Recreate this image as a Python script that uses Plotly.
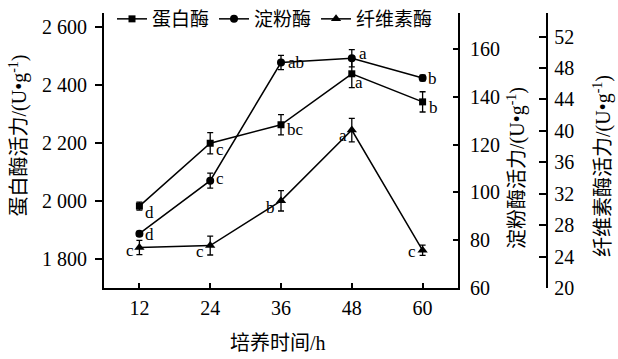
import plotly.graph_objects as go

# ---- data ----
hours = [12, 24, 36, 48, 60]
protease = [1983, 2200, 2264, 2440, 2343]
protease_err = [14, 37, 35, 48, 35]
protease_sig = ["d", "c", "bc", "a", "b"]
amylase = [82.7, 104.9, 154.3, 156.1, 147.8]
amylase_err = [1.0, 3.1, 3.0, 3.6, 1.2]
amylase_sig = ["d", "c", "ab", "a", "b"]
cellulase = [25.15, 25.4, 31.1, 40.1, 24.8]
cellulase_err = [0.9, 1.2, 1.3, 1.5, 0.65]
cellulase_sig = ["c", "c", "b", "a", "c"]

left_ticks = [1800, 2000, 2200, 2400, 2600]
left_ticktext = ["1 800", "2 000", "2 200", "2 400", "2 600"]
mid_ticks = [60, 80, 100, 120, 140, 160]
right_ticks = [20, 24, 28, 32, 36, 40, 44, 48, 52]

FONT = "Times New Roman, Liberation Serif, serif, Noto Sans CJK SC"
W, H = 618, 359
ML, MR, MT, MB = 104, 4, 0, 71
pw = W - ML - MR
ph = H - MT - MB
PLOT_TOP = 13
dom_end = (458 - ML) / pw
pos3 = (547.3 - ML) / pw
ydom_top = (H - MB - PLOT_TOP) / ph

fig = go.Figure()
common = dict(mode="lines+markers", line=dict(color="black", width=1.5))
fig.add_trace(go.Scatter(x=hours, y=protease, name="蛋白酶", yaxis="y",
                         marker=dict(symbol="square", size=7, color="black"),
                         error_y=dict(type="data", array=protease_err, color="black", thickness=1.3, width=3),
                         **common))
fig.add_trace(go.Scatter(x=hours, y=amylase, name="淀粉酶", yaxis="y2",
                         marker=dict(symbol="circle", size=8, color="black"),
                         error_y=dict(type="data", array=amylase_err, color="black", thickness=1.3, width=3),
                         **common))
fig.add_trace(go.Scatter(x=hours, y=cellulase, name="纤维素酶", yaxis="y3",
                         marker=dict(symbol="triangle-up", size=9, color="black"),
                         error_y=dict(type="data", array=cellulase_err, color="black", thickness=1.3, width=3),
                         **common))

ann = []
lf = dict(family=FONT, size=17, color="black")
p_shift = [(4, -6), (4, -6), (4, -5), (1, -9), (4, -6)]
for xv, yv, s, (dx, dy) in zip(hours, protease, protease_sig, p_shift):
    ann.append(dict(x=xv, y=yv, xref="x", yref="y", text=s, showarrow=False,
                    xanchor="left", xshift=dx, yshift=dy, font=lf))
a_shift = [(4, -1), (4, 2), (5, 0), (5, 5), (3, 0)]
for xv, yv, s, (dx, dy) in zip(hours, amylase, amylase_sig, a_shift):
    ann.append(dict(x=xv, y=yv, xref="x", yref="y2", text=s, showarrow=False,
                    xanchor="left", xshift=dx, yshift=dy, font=lf))
c_shift = [(-3, -3), (-4, -6), (-4, -7), (-3, -5), (-5, -1)]
for xv, yv, s, (dx, dy) in zip(hours, cellulase, cellulase_sig, c_shift):
    ann.append(dict(x=xv, y=yv, xref="x", yref="y3", text=s, showarrow=False,
                    xanchor="right", xshift=dx, yshift=dy, font=lf))

tf = dict(family=FONT, size=20, color="black")
def py(pix):
    return (H - MB - pix) / ph
def px(pix):
    return (pix - ML) / pw
ann.append(dict(x=px(18), y=py(135.5), xref="paper", yref="paper",
                text="蛋白酶活力/(U•g<sup>-1</sup>)", textangle=-90, showarrow=False,
                xanchor="center", yanchor="middle", font=tf))
ann.append(dict(x=px(517), y=py(168), xref="paper", yref="paper",
                text="淀粉酶活力/(U•g<sup>-1</sup>)", textangle=-90, showarrow=False,
                xanchor="center", yanchor="middle", font=tf))
ann.append(dict(x=px(602), y=py(166), xref="paper", yref="paper",
                text="纤维素酶活力/(U•g<sup>-1</sup>)", textangle=-90, showarrow=False,
                xanchor="center", yanchor="middle", font=tf))
ann.append(dict(x=px(278), y=py(343), xref="paper", yref="paper",
                text="培养时间/h", showarrow=False,
                xanchor="center", yanchor="middle", font=tf))

axcommon = dict(showgrid=False, zeroline=False, showline=True, linecolor="black",
                linewidth=2, tickcolor="black", tickwidth=1.5, automargin=False,
                tickfont=dict(family=FONT, size=20, color="black"))

fig.update_layout(
    width=W, height=H, margin=dict(l=ML, r=MR, t=MT, b=MB, autoexpand=False),
    paper_bgcolor="white", plot_bgcolor="white",
    font=dict(family=FONT, color="black"),
    xaxis=dict(domain=[0, dom_end], range=[6, 66], tickvals=hours, ticks="inside",
               ticklen=5, ticklabelstandoff=1, **axcommon),
    yaxis=dict(domain=[0, ydom_top], range=[1700, 2650], tickvals=left_ticks, ticktext=left_ticktext,
               ticks="outside", ticklen=7, ticklabelstandoff=4, **axcommon),
    yaxis2=dict(range=[60, 175], tickvals=mid_ticks, overlaying="y", side="right",
                anchor="x", ticks="inside", ticklen=5, ticklabelstandoff=6, **axcommon),
    yaxis3=dict(range=[20, 55], tickvals=right_ticks, overlaying="y", side="right",
                anchor="free", position=pos3, ticks="inside", ticklen=7,
                ticklabelstandoff=2, **axcommon),
    legend=dict(orientation="h", x=px(112), xanchor="left", y=1.0, yanchor="top",
                font=dict(family=FONT, size=19, color="black"), itemwidth=30,
                bgcolor="rgba(0,0,0,0)", tracegroupgap=0),
    annotations=ann,
    showlegend=True,
)

fig.write_html("out.html", config={"displayModeBar": False},
               post_script="document.body.style.margin='0';document.body.style.overflow='hidden';")
